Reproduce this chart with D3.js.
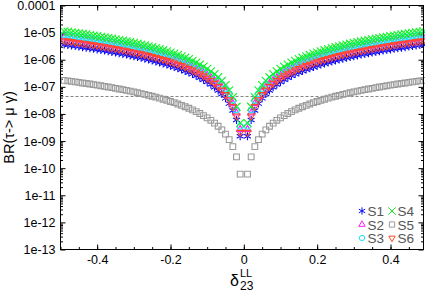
<!DOCTYPE html>
<html>
<head>
<meta charset="utf-8">
<script src="https://cdn.jsdelivr.net/npm/d3@7"></script>
<style>
body { margin: 0; background: #fff; }
svg { display: block; font-family: "Liberation Sans", Arial, Helvetica, sans-serif; }
</style>
</head>
<body>
<div id="chart"></div>
<script>
// delta_23^LL values (0 is skipped, BR = 0 there)
var deltas = [-0.49,-0.48,-0.47,-0.46,-0.45,-0.44,-0.43,-0.42,-0.41,-0.40,-0.39,-0.38,-0.37,-0.36,-0.35,-0.34,-0.33,-0.32,-0.31,-0.30,-0.29,-0.28,-0.27,-0.26,-0.25,-0.24,-0.23,-0.22,-0.21,-0.20,-0.19,-0.18,-0.17,-0.16,-0.15,-0.14,-0.13,-0.12,-0.11,-0.10,-0.09,-0.08,-0.07,-0.06,-0.05,-0.04,-0.03,-0.02,-0.01,
    0.01,0.02,0.03,0.04,0.05,0.06,0.07,0.08,0.09,0.10,0.11,0.12,0.13,0.14,0.15,0.16,0.17,0.18,0.19,0.20,0.21,0.22,0.23,0.24,0.25,0.26,0.27,0.28,0.29,0.30,0.31,0.32,0.33,0.34,0.35,0.36,0.37,0.38,0.39,0.40,0.41,0.42,0.43,0.44,0.45,0.46,0.47,0.48,0.49];

var s1 = [3.60e-6,3.46e-6,3.31e-6,3.17e-6,3.04e-6,2.90e-6,2.77e-6,2.65e-6,2.52e-6,2.40e-6,2.28e-6,2.17e-6,2.05e-6,1.94e-6,1.84e-6,1.73e-6,1.63e-6,1.54e-6,1.44e-6,1.35e-6,1.26e-6,1.18e-6,1.09e-6,1.01e-6,9.38e-7,8.64e-7,7.94e-7,7.26e-7,6.62e-7,6.0e-7,5.42e-7,4.86e-7,4.34e-7,3.84e-7,3.38e-7,2.94e-7,2.54e-7,2.16e-7,1.82e-7,1.5e-7,1.22e-7,9.6e-8,7.35e-8,5.4e-8,3.75e-8,2.4e-8,1.35e-8,6.0e-9,1.5e-9,
    1.5e-9,6.0e-9,1.35e-8,2.4e-8,3.75e-8,5.4e-8,7.35e-8,9.6e-8,1.22e-7,1.5e-7,1.82e-7,2.16e-7,2.54e-7,2.94e-7,3.38e-7,3.84e-7,4.34e-7,4.86e-7,5.42e-7,6.0e-7,6.62e-7,7.26e-7,7.94e-7,8.64e-7,9.38e-7,1.01e-6,1.09e-6,1.18e-6,1.26e-6,1.35e-6,1.44e-6,1.54e-6,1.63e-6,1.73e-6,1.84e-6,1.94e-6,2.05e-6,2.17e-6,2.28e-6,2.40e-6,2.52e-6,2.65e-6,2.77e-6,2.90e-6,3.04e-6,3.17e-6,3.31e-6,3.46e-6,3.60e-6];
var s2 = [6.48e-6,6.22e-6,5.96e-6,5.71e-6,5.47e-6,5.23e-6,4.99e-6,4.76e-6,4.54e-6,4.32e-6,4.11e-6,3.90e-6,3.70e-6,3.50e-6,3.31e-6,3.12e-6,2.94e-6,2.76e-6,2.59e-6,2.43e-6,2.27e-6,2.12e-6,1.97e-6,1.83e-6,1.69e-6,1.56e-6,1.43e-6,1.31e-6,1.19e-6,1.08e-6,9.75e-7,8.75e-7,7.80e-7,6.91e-7,6.08e-7,5.29e-7,4.56e-7,3.89e-7,3.27e-7,2.7e-7,2.19e-7,1.73e-7,1.32e-7,9.72e-8,6.75e-8,4.32e-8,2.43e-8,1.08e-8,2.7e-9,
    2.7e-9,1.08e-8,2.43e-8,4.32e-8,6.75e-8,9.72e-8,1.32e-7,1.73e-7,2.19e-7,2.7e-7,3.27e-7,3.89e-7,4.56e-7,5.29e-7,6.08e-7,6.91e-7,7.80e-7,8.75e-7,9.75e-7,1.08e-6,1.19e-6,1.31e-6,1.43e-6,1.56e-6,1.69e-6,1.83e-6,1.97e-6,2.12e-6,2.27e-6,2.43e-6,2.59e-6,2.76e-6,2.94e-6,3.12e-6,3.31e-6,3.50e-6,3.70e-6,3.90e-6,4.11e-6,4.32e-6,4.54e-6,4.76e-6,4.99e-6,5.23e-6,5.47e-6,5.71e-6,5.96e-6,6.22e-6,6.48e-6];
var s3 = [8.40e-6,8.06e-6,7.73e-6,7.41e-6,7.09e-6,6.78e-6,6.47e-6,6.17e-6,5.88e-6,5.60e-6,5.32e-6,5.05e-6,4.79e-6,4.54e-6,4.29e-6,4.05e-6,3.81e-6,3.58e-6,3.36e-6,3.15e-6,2.94e-6,2.74e-6,2.55e-6,2.37e-6,2.19e-6,2.02e-6,1.85e-6,1.69e-6,1.54e-6,1.40e-6,1.26e-6,1.13e-6,1.01e-6,8.96e-7,7.88e-7,6.86e-7,5.92e-7,5.04e-7,4.24e-7,3.5e-7,2.84e-7,2.24e-7,1.72e-7,1.26e-7,8.75e-8,5.6e-8,3.15e-8,1.4e-8,3.5e-9,
    3.5e-9,1.4e-8,3.15e-8,5.6e-8,8.75e-8,1.26e-7,1.72e-7,2.24e-7,2.84e-7,3.5e-7,4.24e-7,5.04e-7,5.92e-7,6.86e-7,7.88e-7,8.96e-7,1.01e-6,1.13e-6,1.26e-6,1.40e-6,1.54e-6,1.69e-6,1.85e-6,2.02e-6,2.19e-6,2.37e-6,2.55e-6,2.74e-6,2.94e-6,3.15e-6,3.36e-6,3.58e-6,3.81e-6,4.05e-6,4.29e-6,4.54e-6,4.79e-6,5.05e-6,5.32e-6,5.60e-6,5.88e-6,6.17e-6,6.47e-6,6.78e-6,7.09e-6,7.41e-6,7.73e-6,8.06e-6,8.40e-6];
var s4 = [1.10e-5,1.06e-5,1.02e-5,9.73e-6,9.32e-6,8.91e-6,8.51e-6,8.11e-6,7.73e-6,7.36e-6,7.00e-6,6.64e-6,6.30e-6,5.96e-6,5.64e-6,5.32e-6,5.01e-6,4.71e-6,4.42e-6,4.14e-6,3.87e-6,3.61e-6,3.35e-6,3.11e-6,2.88e-6,2.65e-6,2.43e-6,2.23e-6,2.03e-6,1.84e-6,1.66e-6,1.49e-6,1.33e-6,1.18e-6,1.04e-6,9.02e-7,7.77e-7,6.62e-7,5.57e-7,4.6e-7,3.73e-7,2.94e-7,2.25e-7,1.66e-7,1.15e-7,7.36e-8,4.14e-8,1.84e-8,4.6e-9,
    4.6e-9,1.84e-8,4.14e-8,7.36e-8,1.15e-7,1.66e-7,2.25e-7,2.94e-7,3.73e-7,4.6e-7,5.57e-7,6.62e-7,7.77e-7,9.02e-7,1.04e-6,1.18e-6,1.33e-6,1.49e-6,1.66e-6,1.84e-6,2.03e-6,2.23e-6,2.43e-6,2.65e-6,2.88e-6,3.11e-6,3.35e-6,3.61e-6,3.87e-6,4.14e-6,4.42e-6,4.71e-6,5.01e-6,5.32e-6,5.64e-6,5.96e-6,6.30e-6,6.64e-6,7.00e-6,7.36e-6,7.73e-6,8.11e-6,8.51e-6,8.91e-6,9.32e-6,9.73e-6,1.02e-5,1.06e-5,1.10e-5];
var s5 = [1.73e-7,1.66e-7,1.59e-7,1.52e-7,1.46e-7,1.39e-7,1.33e-7,1.27e-7,1.21e-7,1.15e-7,1.10e-7,1.04e-7,9.86e-8,9.33e-8,8.82e-8,8.32e-8,7.84e-8,7.37e-8,6.92e-8,6.48e-8,6.06e-8,5.64e-8,5.25e-8,4.87e-8,4.50e-8,4.15e-8,3.81e-8,3.48e-8,3.18e-8,2.88e-8,2.60e-8,2.33e-8,2.08e-8,1.84e-8,1.62e-8,1.41e-8,1.22e-8,1.04e-8,8.71e-9,7.2e-9,5.83e-9,4.61e-9,3.53e-9,2.59e-9,1.8e-9,1.13e-9,6.2e-10,2.6e-10,6.0e-11,
    6.0e-11,2.6e-10,6.2e-10,1.13e-9,1.8e-9,2.59e-9,3.53e-9,4.61e-9,5.83e-9,7.2e-9,8.71e-9,1.04e-8,1.22e-8,1.41e-8,1.62e-8,1.84e-8,2.08e-8,2.33e-8,2.60e-8,2.88e-8,3.18e-8,3.48e-8,3.81e-8,4.15e-8,4.50e-8,4.87e-8,5.25e-8,5.64e-8,6.06e-8,6.48e-8,6.92e-8,7.37e-8,7.84e-8,8.32e-8,8.82e-8,9.33e-8,9.86e-8,1.04e-7,1.10e-7,1.15e-7,1.21e-7,1.27e-7,1.33e-7,1.39e-7,1.46e-7,1.52e-7,1.59e-7,1.66e-7,1.73e-7];
var s6 = [5.04e-6,4.84e-6,4.64e-6,4.44e-6,4.25e-6,4.07e-6,3.88e-6,3.70e-6,3.53e-6,3.36e-6,3.19e-6,3.03e-6,2.87e-6,2.72e-6,2.57e-6,2.43e-6,2.29e-6,2.15e-6,2.02e-6,1.89e-6,1.77e-6,1.65e-6,1.53e-6,1.42e-6,1.31e-6,1.21e-6,1.11e-6,1.02e-6,9.26e-7,8.40e-7,7.58e-7,6.80e-7,6.07e-7,5.38e-7,4.73e-7,4.12e-7,3.55e-7,3.02e-7,2.54e-7,2.10e-7,1.70e-7,1.34e-7,1.03e-7,7.56e-8,5.25e-8,3.36e-8,1.89e-8,8.4e-9,2.1e-9,
    2.1e-9,8.4e-9,1.89e-8,3.36e-8,5.25e-8,7.56e-8,1.03e-7,1.34e-7,1.70e-7,2.10e-7,2.54e-7,3.02e-7,3.55e-7,4.12e-7,4.73e-7,5.38e-7,6.07e-7,6.80e-7,7.58e-7,8.40e-7,9.26e-7,1.02e-6,1.11e-6,1.21e-6,1.31e-6,1.42e-6,1.53e-6,1.65e-6,1.77e-6,1.89e-6,2.02e-6,2.15e-6,2.29e-6,2.43e-6,2.57e-6,2.72e-6,2.87e-6,3.03e-6,3.19e-6,3.36e-6,3.53e-6,3.70e-6,3.88e-6,4.07e-6,4.25e-6,4.44e-6,4.64e-6,4.84e-6,5.04e-6];

var seriesNames = ['S1', 'S2', 'S3', 'S4', 'S5', 'S6'];
var limitBR = 4.4e-8;  // experimental bound on BR(tau -> mu gamma)

var xTicks = [-0.4, -0.2, 0, 0.2, 0.4];
var xTickLabels = ['-0.4', '-0.2', '0', '0.2', '0.4'];
var yTicks = [1e-4, 1e-5, 1e-6, 1e-7, 1e-8, 1e-9, 1e-10, 1e-11, 1e-12, 1e-13];
var yTickLabels = ['0.0001', '1e-05', '1e-06', '1e-07', '1e-08', '1e-09', '1e-10', '1e-11', '1e-12', '1e-13'];

var W = 425, H = 291;
var pL = 60.5, pR = 423.5, pT = 5.5, pB = 249.5;

var svg = d3.select('#chart').append('svg')
    .attr('width', W)
    .attr('height', H);

var x = d3.scaleLinear().domain([-0.5, 0.49]).range([pL, pR]);
var y = d3.scaleLog().domain([1e-4, 1e-13]).range([pT, pB]);

// minor ticks every 0.05 on x, 2..9 per decade on y
var xMinor = d3.range(-10, 10).map(function (k) { return k * 0.05; });
var yMinor = y.ticks().filter(function (v) {
    var l = Math.log10(v);
    return Math.abs(l - Math.round(l)) > 1e-6;
});

function styleAxis(g) {
    g.select('.domain').remove();
    g.selectAll('line').attr('stroke', '#000');
    g.selectAll('text').attr('fill', '#000').attr('font-size', 12.5).attr('font-family', null);
}

svg.append('g').attr('transform', 'translate(0,' + pB + ')')
    .call(d3.axisBottom(x).tickValues(xMinor).tickSize(-2.5).tickFormat(''))
    .call(styleAxis);
svg.append('g').attr('transform', 'translate(0,' + pB + ')')
    .call(d3.axisBottom(x).tickValues(xTicks).tickSize(-5).tickPadding(6)
        .tickFormat(function (d, i) { return xTickLabels[i]; }))
    .call(styleAxis);
svg.append('g').attr('transform', 'translate(0,' + pT + ')')
    .call(d3.axisTop(x).tickValues(xMinor).tickSize(-2.5).tickFormat(''))
    .call(styleAxis);
svg.append('g').attr('transform', 'translate(0,' + pT + ')')
    .call(d3.axisTop(x).tickValues(xTicks).tickSize(-5).tickFormat(''))
    .call(styleAxis);

svg.append('g').attr('transform', 'translate(' + pL + ',0)')
    .call(d3.axisLeft(y).tickValues(yMinor).tickSize(-2.5).tickFormat(''))
    .call(styleAxis);
svg.append('g').attr('transform', 'translate(' + pL + ',0)')
    .call(d3.axisLeft(y).tickValues(yTicks).tickSize(-5).tickPadding(5)
        .tickFormat(function (d, i) { return yTickLabels[i]; }))
    .call(styleAxis);
svg.append('g').attr('transform', 'translate(' + pR + ',0)')
    .call(d3.axisRight(y).tickValues(yMinor).tickSize(-2.5).tickFormat(''))
    .call(styleAxis);
svg.append('g').attr('transform', 'translate(' + pR + ',0)')
    .call(d3.axisRight(y).tickValues(yTicks).tickSize(-5).tickFormat(''))
    .call(styleAxis);

// experimental limit
svg.append('line')
    .attr('x1', pL).attr('x2', pR)
    .attr('y1', Math.round(y(limitBR)) + 0.5).attr('y2', Math.round(y(limitBR)) + 0.5)
    .attr('stroke', '#666')
    .attr('stroke-width', 0.8)
    .attr('stroke-dasharray', '3,2');

// markers
var markers = {
    S1: { sym: d3.symbolAsterisk, size: 44, color: '#0a0aff', rot: 0 },
    S2: { sym: d3.symbolTriangle2, size: 34, color: '#ff1cff', rot: 0 },
    S3: { sym: d3.symbolCircle, size: 26, color: '#1ee8ff', rot: 0 },
    S4: { sym: d3.symbolTimes, size: 44, color: '#10f028', rot: 0 },
    S5: { sym: d3.symbolSquare2, size: 42, color: '#9a9a9a', rot: 0 },
    S6: { sym: d3.symbolTriangle2, size: 34, color: '#ff4a26', rot: 180 }
};
var allSeries = [s1, s2, s3, s4, s5, s6];

var plot = svg.append('g');
allSeries.forEach(function (vals, si) {
    var m = markers[seriesNames[si]];
    var pts = deltas.map(function (d, i) { return { d: d, v: vals[i] }; });
    plot.append('g').selectAll('path')
        .data(pts)
        .enter()
        .append('path')
        .attr('d', d3.symbol(m.sym, m.size))
        .attr('transform', function (p) {
            return 'translate(' + x(p.d) + ',' + y(p.v) + ') rotate(' + m.rot + ')';
        })
        .attr('fill', 'none')
        .attr('stroke', m.color)
        .attr('stroke-width', 1.1);
});

// frame
svg.append('rect')
    .attr('x', pL).attr('y', pT)
    .attr('width', pR - pL).attr('height', pB - pT)
    .attr('fill', 'none')
    .attr('stroke', '#000')
    .attr('stroke-width', 1);

// legend (two columns, three rows)
var legend = svg.append('g');
seriesNames.forEach(function (name, i) {
    var col = Math.floor(i / 3), row = i % 3;
    var lx = 362 + col * 30, ly = 211 + row * 13.5;
    var m = markers[name];
    legend.append('path')
        .attr('d', d3.symbol(m.sym, m.size * 0.85))
        .attr('transform', 'translate(' + lx + ',' + ly + ') rotate(' + m.rot + ')')
        .attr('fill', 'none')
        .attr('stroke', m.color)
        .attr('stroke-width', 1);
    legend.append('text')
        .attr('x', lx + 5.5)
        .attr('y', ly + 5)
        .attr('font-size', 13.5)
        .attr('fill', '#555')
        .text(name);
});

// axis titles
svg.append('text')
    .attr('transform', 'translate(14,' + ((pT + pB) / 2) + ') rotate(-90)')
    .attr('text-anchor', 'middle')
    .attr('font-size', 14.5)
    .attr('fill', '#000')
    .text('BR(τ-> μ γ)');

var xt = svg.append('g');
xt.append('text').attr('x', 230).attr('y', 286).attr('font-size', 16).text('δ');
xt.append('text').attr('x', 240).attr('y', 277).attr('font-size', 11).text('LL');
xt.append('text').attr('x', 240).attr('y', 289.5).attr('font-size', 12).text('23');
</script>
</body>
</html>
